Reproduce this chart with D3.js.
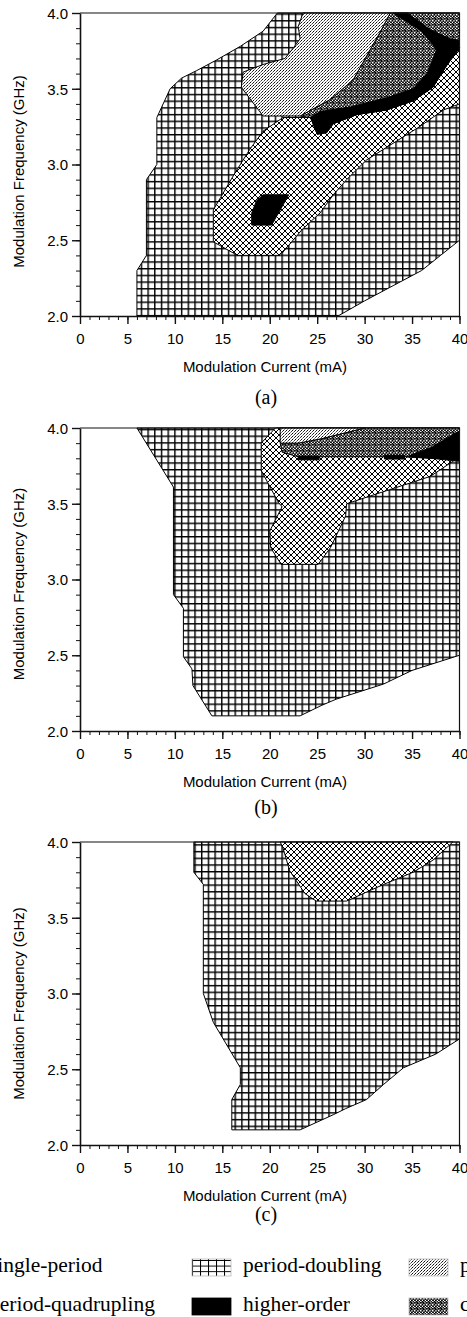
<!DOCTYPE html>
<html lang="en">
<head>
<meta charset="UTF-8">
<title>Dynamic regions vs modulation current and frequency</title>
<style>
  body { margin: 0; background: #fff; }
  svg { display: block; }
</style>
</head>
<body>
<script src="https://cdn.jsdelivr.net/npm/d3@7"></script>
<script>
// axes
var xDomain = [0, 40], yDomain = [2.0, 4.0];
var xTicks = [0, 5, 10, 15, 20, 25, 30, 35, 40];
var yTicks = [2.0, 2.5, 3.0, 3.5, 4.0];
var xLabel = "Modulation Current (mA)";
var yLabel = "Modulation Frequency (GHz)";
var panelNames = ["(a)", "(b)", "(c)"];

// region outlines, [current mA, frequency GHz]
// panel (a)
var aDoubling = [[6,2.0],[6,2.3],[7,2.4],[7,2.9],[8.1,3.0],[8.1,3.31],[9.5,3.5],[10.7,3.57],[12.3,3.62],[14.4,3.69],[16.9,3.78],[19.3,3.88],[20.8,4.0],[40,4.0],[40,2.5],[38,2.4],[36,2.3],[33,2.2],[30,2.1],[27.2,2.0]];
var aQuadrupling = [[14.05,2.49],[14.05,2.70],[14.8,2.78],[16.2,2.93],[17.9,3.10],[19.3,3.22],[21.4,3.31],[24.3,3.31],[25.0,3.20],[26.0,3.21],[26.7,3.27],[29.2,3.33],[32.3,3.36],[35.1,3.42],[37.2,3.51],[38.6,3.65],[40,3.77],[40,3.40],[38.3,3.36],[35.8,3.25],[33.0,3.14],[30.2,3.03],[28.1,2.90],[26.7,2.80],[25.3,2.68],[23.4,2.57],[21.1,2.40],[16.6,2.40]];
var aChaos = [[32.7,4.0],[40,4.0],[40,3.77],[38.6,3.65],[37.2,3.51],[35.1,3.42],[32.3,3.36],[29.2,3.33],[26.7,3.27],[24.3,3.31],[23.2,3.32],[26.4,3.43],[28.8,3.56],[30.6,3.76],[31.6,3.87]];
var aTripling = [[23.5,4.0],[32.7,4.0],[31.6,3.87],[30.6,3.76],[28.8,3.56],[26.4,3.43],[23.2,3.32],[19.3,3.32],[17.0,3.51],[17.2,3.61],[19.3,3.66],[21.6,3.70],[22.5,3.77],[23.2,3.83],[23.0,3.91]];
var aHigherBand = [[33.0,4.0],[34.5,4.0],[36.9,3.89],[39.0,3.83],[40,3.82],[40,3.77],[38.6,3.65],[37.2,3.51],[35.1,3.42],[32.3,3.36],[29.2,3.33],[26.7,3.27],[26.0,3.21],[25.0,3.20],[24.3,3.31],[25.3,3.35],[28.5,3.38],[32.3,3.44],[35.1,3.50],[36.6,3.60],[37.6,3.76],[36.0,3.88]];
var aHigherIsland = [[18.6,2.76],[19.3,2.80],[22.0,2.80],[20.2,2.60],[18.1,2.60],[18.1,2.68]];

// panel (b)
var bDoubling = [[6,4.0],[40,4.0],[40,2.5],[35,2.4],[32,2.31],[27,2.21],[25.5,2.17],[23.2,2.1],[13.9,2.1],[11.9,2.3],[11.8,2.41],[10.9,2.49],[10.9,2.81],[9.85,2.90],[9.85,3.61]];
var bQuadrupling = [[20.6,4.0],[20.0,3.96],[19.1,3.90],[19.1,3.72],[20.9,3.51],[21.3,3.48],[20.0,3.32],[20.1,3.21],[21.2,3.10],[25.1,3.10],[26.4,3.21],[28.0,3.42],[28.1,3.50],[32.0,3.58],[36.9,3.68],[39.3,3.78],[40,3.81],[40,4.0]];
var bChaos = [[21.1,3.90],[23,3.90],[25.5,3.93],[30,4.0],[40,4.0],[40,3.80],[37,3.80],[34.4,3.81],[23.0,3.81],[21.3,3.84]];
var bTripling = [[21.1,4.0],[30.0,4.0],[25.5,3.93],[23,3.90],[21.1,3.90]];
var bHigherWedge = [[34.4,3.81],[37,3.87],[39.7,3.97],[40,3.98],[40,3.78],[37,3.80]];
var bHigherBar1 = [[23.0,3.815],[25.2,3.815],[25.2,3.79],[23.0,3.79]];
var bHigherBar2 = [[32.1,3.82],[34.2,3.82],[34.2,3.795],[32.1,3.795]];

// panel (c)
var cDoubling = [[12,4.0],[40,4.0],[40,2.70],[37.5,2.60],[34.1,2.51],[32,2.40],[30.2,2.30],[28,2.24],[26.7,2.20],[23.2,2.10],[16.0,2.10],[16.0,2.30],[16.9,2.40],[16.9,2.51],[14.05,2.81],[13.0,3.00],[13.0,3.72],[12.0,3.80]];
var cQuadrupling = [[21.1,4.0],[39.3,4.0],[37.2,3.88],[35.1,3.80],[32.0,3.72],[28.1,3.61],[24.9,3.61],[23.7,3.66],[22.1,3.81],[21.4,3.96]];

// legend
var legendLabels = ["single-period", "period-doubling", "period-tripling", "period-quadrupling", "higher-order", "chaos"];

// layers drawn bottom to top
var panelLayers = [
  [[aDoubling,"pd"],[aQuadrupling,"pq"],[aChaos,"pc"],[aTripling,"pt"],[aHigherBand,"ho"],[aHigherIsland,"ho"]],
  [[bDoubling,"pd"],[bQuadrupling,"pq"],[bChaos,"pc"],[bTripling,"pt"],[bHigherWedge,"ho"],[bHigherBar1,"ho"],[bHigherBar2,"ho"]],
  [[cDoubling,"pd"],[cQuadrupling,"pq"]]
];
var legendFills = ["sp","pdL","pt","pq","ho","pc"];

var W = 467, H = 1317;
var plotLeft = 80, plotRight = 459.5, plotH = 303;
var panelTops = [13, 428, 842];
var panelLabelY = [404, 814, 1221];
var yTitleShift = [7, 4.5, 10];
var sans = "'Liberation Sans', Arial, sans-serif";
var serif = "'Liberation Serif', 'Times New Roman', serif";

var svg = d3.select("body").append("svg").attr("width", W).attr("height", H);
var defs = svg.append("defs");

function pattern(id, w, h, bg) {
  var p = defs.append("pattern").attr("id", id).attr("patternUnits", "userSpaceOnUse")
    .attr("width", w).attr("height", h);
  p.append("rect").attr("width", w).attr("height", h).attr("fill", bg);
  return p;
}
// period-doubling: square grid
var pd = pattern("pd", 6.7, 6.7, "#fff");
pd.append("path").attr("d", "M0.7,0V6.7M0,0.7H6.7").attr("stroke", "#000").attr("stroke-width", 1.45);
var pdL = pattern("pdL", 8, 5.6, "#fff");
pdL.append("path").attr("d", "M0.5,0V5.6M0,0.5H8").attr("stroke", "#000").attr("stroke-width", 1.1);
// period-quadrupling: diagonal cross-hatch
var q = 6;
var pq = pattern("pq", q, q, "#fff");
pq.append("path").attr("d", "M0,0L" + q + "," + q + "M" + q + ",0L0," + q +
    "M-1," + (q - 1) + "L1," + (q + 1) + "M" + (q - 1) + ",-1L" + (q + 1) + ",1" +
    "M-1,1L1,-1M" + (q - 1) + "," + (q + 1) + "L" + (q + 1) + "," + (q - 1))
  .attr("stroke", "#000").attr("stroke-width", 1.25).attr("shape-rendering", "crispEdges");
// period-tripling: fine slanted dashes
var pt = pattern("pt", 3, 3, "#fff");
pt.append("path").attr("d", "M0.2,2.8L2.5,0.5").attr("stroke", "#000").attr("stroke-width", 0.95);
// chaos: stipple
var pc = pattern("pc", 6, 6, "#fff");
[[0,0],[3,0.4],[1.5,1.9],[4.5,2.2],[0.1,3.4],[3,3.6],[1.6,5],[4.6,5.1],[5.3,0.2],[2.2,0]].forEach(function(d){
  pc.append("rect").attr("x", d[0]).attr("y", d[1]).attr("width", 1.8).attr("height", 1.7).attr("fill", "#000");
});
function fillOf(k) {
  if (k === "ho") return "#000";
  if (k === "sp") return "#fff";
  return "url(#" + k + ")";
}

var x = d3.scaleLinear().domain(xDomain).range([plotLeft, plotRight]);

panelTops.forEach(function(top, i) {
  var y = d3.scaleLinear().domain(yDomain).range([top + plotH, top]);
  var g = svg.append("g");
  var line = d3.line().x(function(d){ return x(d[0]); }).y(function(d){ return y(d[1]); })
    .curve(d3.curveLinearClosed);

  panelLayers[i].forEach(function(l) {
    g.append("path").attr("d", line(l[0])).attr("fill", fillOf(l[1]))
      .attr("stroke", "#000").attr("stroke-width", 1).attr("stroke-linejoin", "round");
  });

  // frame top and right
  g.append("path").attr("d", "M" + x(0) + "," + y(4) + "H" + x(40) + "V" + y(2))
    .attr("fill", "none").attr("stroke", "#111").attr("stroke-width", 1.2);

  // minor ticks
  g.append("g").attr("transform", "translate(0," + y(2) + ")")
    .call(d3.axisBottom(x).tickValues(d3.range(0, 41, 1)).tickSize(4).tickSizeOuter(0).tickFormat(""))
    .call(function(s){ s.select(".domain").remove(); s.selectAll("line").attr("stroke", "#111"); });
  g.append("g").attr("transform", "translate(" + x(0) + ",0)")
    .call(d3.axisLeft(y).tickValues(d3.range(20, 41, 1).map(function(v){ return v / 10; })).tickSize(4).tickSizeOuter(0).tickFormat(""))
    .call(function(s){ s.select(".domain").remove(); s.selectAll("line").attr("stroke", "#111"); });

  // major axes
  var xa = g.append("g").attr("transform", "translate(0," + y(2) + ")")
    .call(d3.axisBottom(x).tickValues(xTicks).tickSize(8).tickSizeOuter(0).tickFormat(d3.format("d")));
  var ya = g.append("g").attr("transform", "translate(" + x(0) + ",0)")
    .call(d3.axisLeft(y).tickValues(yTicks).tickSize(8).tickSizeOuter(0).tickFormat(d3.format(".1f")));
  [xa, ya].forEach(function(a) {
    a.select(".domain").attr("stroke", "#111").attr("stroke-width", 1.6);
    a.selectAll(".tick line").attr("stroke", "#111").attr("stroke-width", 1.4);
    a.selectAll("text").attr("font-family", sans).attr("font-size", 15).attr("fill", "#000");
  });
  xa.selectAll("text").attr("y", 28).attr("dy", 0);
  ya.selectAll("text").attr("x", -12).attr("dy", "0.36em");

  g.append("text").attr("x", 265).attr("y", y(2) + 55.5).attr("text-anchor", "middle")
    .attr("font-family", sans).attr("font-size", 15).text(xLabel);
  g.append("text").attr("transform", "translate(23.5," + (top + plotH / 2 + yTitleShift[i]) + ") rotate(-90)")
    .attr("text-anchor", "middle").attr("font-family", sans).attr("font-size", 15).text(yLabel);
  g.append("text").attr("x", 266).attr("y", panelLabelY[i]).attr("text-anchor", "middle")
    .attr("font-family", serif).attr("font-size", 20).text(panelNames[i]);
});

// legend, 3 columns x 2 rows
var colSwatch = [-62, 192, 409], colText = [-11, 243, 460];
var rowSwatch = [1259, 1298], rowText = [1272, 1311];
var lg = svg.append("g");
legendLabels.forEach(function(label, k) {
  var c = k % 3, r = Math.floor(k / 3);
  lg.append("rect").attr("x", colSwatch[c]).attr("y", rowSwatch[r]).attr("width", 39).attr("height", 17)
    .attr("fill", fillOf(legendFills[k])).attr("stroke", legendFills[k] === "ho" ? "#000" : "#bbb").attr("stroke-width", 0.8);
  lg.append("text").attr("x", colText[c]).attr("y", rowText[r])
    .attr("font-family", serif).attr("font-size", 21.5).text(label);
});
</script>
</body>
</html>
